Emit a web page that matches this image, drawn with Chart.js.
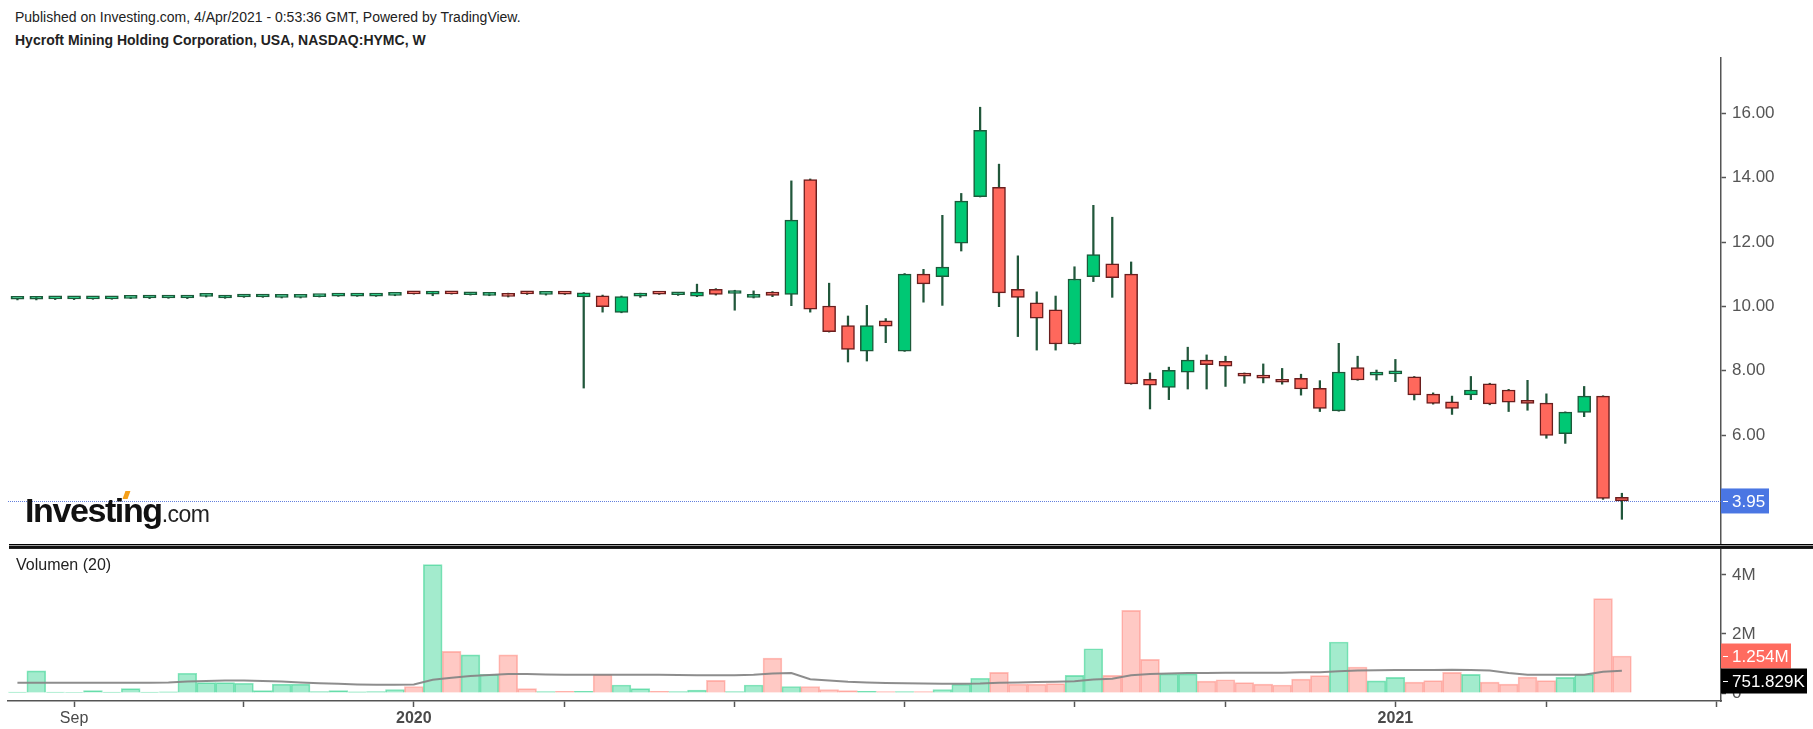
<!DOCTYPE html>
<html>
<head>
<meta charset="utf-8">
<title>HYMC weekly</title>
<script src="https://cdn.jsdelivr.net/npm/chart.js@4.4.0/dist/chart.umd.min.js"></script>
<style>
  body { margin: 0; background: #fff; font-family: "Liberation Sans", Arial, sans-serif; }
  #wrap { position: relative; width: 1813px; height: 729px; overflow: hidden; background: #fff; }
  .hdr { position: absolute; left: 15px; font-size: 14px; line-height: 16px; color: #222; white-space: nowrap; }
  #priceBox { position: absolute; left: 0; top: 0; width: 1813px; height: 546px; }
  #volBox { position: absolute; left: 0; top: 546px; width: 1813px; height: 183px; }
  #sep { position: absolute; left: 9px; top: 544px; width: 1804px; height: 1px; background: #000;
         border-bottom: 1px solid #9a9a9a; box-shadow: 0 2px 0 #111, 0 3px 0 #222; }
  #volTitle { position: absolute; left: 16px; top: 557px; font-size: 16px; line-height: 16px; color: #222; }
  #logo { position: absolute; left: 25px; top: 493px; line-height: 34px; white-space: nowrap; color: #111; }
  #logo .big { font-size: 34px; font-weight: 700; letter-spacing: -1.4px; }
  #logo .small { font-size: 23px; letter-spacing: -0.5px; color: #222; }
  #logoMark { position: absolute; left: 124px; top: 491px; width: 5px; height: 8px; background: #f5a01a; transform: skewX(-20deg); }
</style>
</head>
<body>
<div id="wrap">
  <div class="hdr" style="top:9px">Published on Investing.com, 4/Apr/2021 - 0:53:36 GMT, Powered by TradingView.</div>
  <div class="hdr" style="top:32px;font-weight:bold">Hycroft Mining Holding Corporation, USA, NASDAQ:HYMC, W</div>
  <div id="priceBox"><canvas id="priceChart"></canvas></div>
  <div id="volBox"><canvas id="volChart"></canvas></div>
  <div id="sep"></div>
  <div id="volTitle">Volumen (20)</div>
  <div id="logo"><span class="big">Investing</span><span class="small">.com</span></div>
  <div id="logoMark"></div>
</div>
<script>
// weekly bars, Aug 12 2019 .. Mar 29 2021 (index 0..85)
const opens = [10.22,10.22,10.23,10.23,10.23,10.23,10.25,10.26,10.26,10.26,
  10.31,10.26,10.29,10.29,10.28,10.28,10.30,10.32,10.32,10.32,
  10.34,10.40,10.38,10.40,10.36,10.34,10.40,10.40,10.37,10.40,
  10.29,10.33,9.81,10.32,10.40,10.36,10.32,10.53,10.40,10.28,
  10.44,10.37,13.94,10.01,9.40,8.61,9.55,8.61,11.00,10.92,
  11.96,13.41,13.70,10.53,10.11,9.89,8.83,10.92,11.32,11.00,
  7.73,7.48,7.95,8.33,8.29,7.92,7.83,7.73,7.76,7.45,
  6.75,8.10,7.86,7.90,7.81,7.27,7.03,7.25,7.59,7.40,
  7.08,6.99,6.04,6.70,7.21,4.06];
const highs = [10.25,10.30,10.24,10.24,10.25,10.24,10.28,10.29,10.28,10.28,
  10.35,10.33,10.32,10.32,10.29,10.29,10.33,10.34,10.34,10.34,
  10.37,10.41,10.45,10.41,10.39,10.40,10.41,10.45,10.39,10.41,
  10.43,10.35,10.32,10.41,10.41,10.39,10.69,10.55,10.50,10.48,
  10.46,13.90,13.96,10.72,9.70,10.03,9.62,11.02,11.15,12.83,
  13.51,16.19,14.42,11.57,10.45,10.32,11.23,13.14,12.77,11.38,
  7.93,8.11,8.73,8.49,8.45,7.93,8.21,8.07,7.89,7.69,
  8.85,8.45,8.02,8.35,7.82,7.31,7.21,7.82,7.61,7.42,
  7.70,7.28,6.72,7.51,7.22,4.19];
const lows = [10.20,10.20,10.21,10.21,10.22,10.22,10.24,10.24,10.25,10.24,
  10.29,10.25,10.28,10.28,10.26,10.26,10.29,10.31,10.31,10.31,
  10.33,10.38,10.33,10.38,10.35,10.33,10.29,10.37,10.35,10.37,
  7.46,9.82,9.80,10.28,10.37,10.34,10.30,10.35,9.88,10.26,
  10.30,10.02,9.82,9.20,8.27,8.30,8.87,8.60,10.13,10.03,
  11.72,13.40,9.99,9.06,8.64,8.64,8.82,10.77,10.28,7.58,
  6.81,7.10,7.43,7.43,7.51,7.61,7.62,7.58,7.24,6.73,
  6.74,7.70,7.71,7.66,7.09,6.96,6.64,7.10,6.94,6.73,
  6.77,5.90,5.74,6.57,4.00,3.38];
const closes = [10.23,10.25,10.23,10.23,10.24,10.24,10.28,10.28,10.28,10.28,
  10.32,10.28,10.32,10.32,10.28,10.28,10.32,10.33,10.33,10.33,
  10.36,10.39,10.39,10.39,10.38,10.35,10.31,10.39,10.38,10.38,
  10.42,9.99,10.30,10.34,10.38,10.38,10.44,10.37,10.42,10.37,
  10.34,12.68,9.91,9.21,8.66,9.40,9.38,11.00,10.70,11.22,
  13.27,15.47,10.42,10.28,9.63,8.83,10.85,11.61,10.89,7.59,
  7.55,8.01,8.33,8.19,8.14,7.83,7.77,7.64,7.43,6.83,
  7.96,7.71,7.88,7.92,7.25,6.98,6.83,7.40,6.97,7.02,
  6.98,5.99,6.71,7.21,4.03,3.95];
// volume in millions of shares
const volumes = [0.03,0.75,0.03,0.02,0.08,0.03,0.15,0.03,0.04,0.67,
  0.35,0.35,0.33,0.08,0.30,0.30,0.05,0.08,0.04,0.05,
  0.12,0.22,4.35,1.41,1.29,0.63,1.29,0.15,0.05,0.06,
  0.06,0.63,0.27,0.15,0.06,0.05,0.10,0.43,0.05,0.27,
  1.18,0.22,0.22,0.12,0.08,0.06,0.05,0.05,0.05,0.12,
  0.30,0.50,0.70,0.30,0.30,0.32,0.60,1.50,0.60,2.80,
  1.14,0.65,0.65,0.40,0.45,0.35,0.30,0.27,0.47,0.59,
  1.73,0.88,0.41,0.53,0.37,0.42,0.70,0.63,0.37,0.30,
  0.54,0.42,0.53,0.63,3.20,1.254];
// 20-week volume average (millions)
const volMA = [0.35,0.35,0.35,0.35,0.35,0.35,0.35,0.35,0.36,0.39,
  0.41,0.42,0.42,0.41,0.39,0.36,0.33,0.31,0.29,0.28,
  0.28,0.29,0.45,0.52,0.58,0.61,0.64,0.64,0.63,0.62,
  0.62,0.62,0.62,0.62,0.62,0.61,0.60,0.60,0.60,0.62,
  0.66,0.68,0.47,0.42,0.38,0.36,0.34,0.33,0.32,0.31,
  0.31,0.32,0.35,0.36,0.37,0.38,0.40,0.46,0.48,0.60,
  0.64,0.66,0.68,0.68,0.69,0.69,0.69,0.69,0.70,0.70,
  0.74,0.76,0.77,0.78,0.78,0.78,0.79,0.78,0.76,0.68,
  0.62,0.62,0.62,0.62,0.72,0.751829];

const xTickIdx = [3, 12, 21, 29, 38, 47, 56, 64, 73, 81, 90];
const xTickText = ['Sep', '', '2020', '', '', '', '', '', '2021', '', ''];
const priceTicks = [6, 8, 10, 12, 14, 16];
const volTicks = [0, 2, 4];

const FONT = '"Liberation Sans", Arial, sans-serif';
Chart.defaults.font.family = FONT;

const UP_FILL = '#00c874', UP_LINE = '#1c5a3a';
const DN_FILL = '#ff685c', DN_LINE = '#6a1e1e';
const WICK = '#21573b';
const AXIS = '#555';

const isUp = opens.map((o, i) => closes[i] >= o);

// no label overflow padding, so the plot area is exactly where the layout puts it
function noPad(s) {
    s.paddingTop = 0; s.paddingBottom = 0; s.paddingLeft = 0; s.paddingRight = 0;
}

const lastPricePlugin = {
    id: 'lastPrice',
    beforeDatasetsDraw(chart) {
        const { ctx, chartArea, scales } = chart;
        const py = Math.round(scales.y.getPixelForValue(closes[closes.length - 1])) + 0.5;
        ctx.save();
        ctx.strokeStyle = 'rgba(70,105,215,0.85)';
        ctx.lineWidth = 1;
        ctx.setLineDash([1, 1]);
        ctx.beginPath();
        ctx.moveTo(chartArea.left, py);
        ctx.lineTo(chartArea.right, py);
        ctx.stroke();
        ctx.restore();
    },
    afterDraw(chart) {
        const { ctx, chartArea, scales } = chart;
        const py = scales.y.getPixelForValue(closes[closes.length - 1]);
        ctx.save();
        ctx.fillStyle = '#4a76e3';
        ctx.fillRect(chartArea.right, py - 12.5, 48, 25);
        ctx.fillStyle = '#fff';
        ctx.fillRect(chartArea.right + 2, Math.round(py), 5, 1);
        ctx.font = '17px ' + FONT;
        ctx.textBaseline = 'middle';
        ctx.fillText(closes[closes.length - 1].toFixed(2), chartArea.right + 11, py + 1);
        ctx.restore();
    }
};

const volLabelPlugin = {
    id: 'volLabels',
    afterDraw(chart) {
        const { ctx, chartArea, scales } = chart;
        const lastVol = volumes[volumes.length - 1];
        const lastMA = volMA[volMA.length - 1];
        const vy = scales.y.getPixelForValue(lastVol);
        let my = scales.y.getPixelForValue(lastMA);
        if (my < vy + 25) my = vy + 25;
        ctx.save();
        ctx.font = '17px ' + FONT;
        ctx.textBaseline = 'middle';
        ctx.fillStyle = '#ff6b5f';
        ctx.fillRect(chartArea.right, vy - 12.5, 70, 25);
        ctx.fillStyle = '#fff';
        ctx.fillRect(chartArea.right + 2, Math.round(vy), 5, 1);
        ctx.fillText(lastVol.toFixed(3) + 'M', chartArea.right + 11, vy + 1);
        ctx.fillStyle = '#000';
        ctx.fillRect(chartArea.right, my - 12.5, 86, 25);
        ctx.fillStyle = '#fff';
        ctx.fillRect(chartArea.right + 2, Math.round(my), 5, 1);
        ctx.fillText((lastMA * 1000).toFixed(3) + 'K', chartArea.right + 11, my + 1);
        ctx.restore();
    }
};

const xRange = { min: -0.5, max: 90.25 };

new Chart(document.getElementById('priceChart'), {
    type: 'bar',
    data: {
        datasets: [
            {
                label: 'body',
                data: opens.map((o, i) => ({ x: i, y: [Math.min(o, closes[i]), Math.max(o, closes[i])] })),
                backgroundColor: isUp.map(u => u ? UP_FILL : DN_FILL),
                borderColor: isUp.map(u => u ? UP_LINE : DN_LINE),
                borderWidth: 1.5,
                borderSkipped: false,
                barThickness: 13,
                minBarLength: 3,
                grouped: false,
                order: 0
            },
            {
                label: 'wick',
                data: lows.map((l, i) => ({ x: i, y: [l, highs[i]] })),
                backgroundColor: WICK,
                borderWidth: 0,
                barThickness: 1.6,
                minBarLength: 1,
                grouped: false,
                order: 1
            }
        ]
    },
    options: {
        animation: false,
        responsive: true,
        maintainAspectRatio: false,
        layout: { padding: { left: 8, top: 58, right: 0, bottom: 0 } },
        plugins: { legend: { display: false }, tooltip: { enabled: false } },
        scales: {
            x: { type: 'linear', min: xRange.min, max: xRange.max, offset: false, display: false },
            y: {
                position: 'right',
                min: 2.55,
                max: 17.72,
                afterFit(s) { s.width = 92; noPad(s); },
                afterBuildTicks(s) { s.ticks = priceTicks.map(v => ({ value: v })); },
                ticks: { callback: v => Number(v).toFixed(2), color: AXIS, font: { size: 17 }, padding: 6 },
                grid: { drawOnChartArea: false, drawTicks: true, tickLength: 5, tickColor: AXIS, tickWidth: 1.5 },
                border: { display: true, color: AXIS, width: 1.5 }
            }
        }
    },
    plugins: [lastPricePlugin]
});

new Chart(document.getElementById('volChart'), {
    type: 'bar',
    data: {
        datasets: [
            {
                type: 'line',
                label: 'Volumen MA 20',
                data: volMA.map((v, i) => ({ x: i, y: v })),
                borderColor: 'rgba(135,135,135,0.95)',
                borderWidth: 2,
                pointRadius: 0,
                tension: 0,
                order: 0
            },
            {
                type: 'bar',
                label: 'Volumen',
                data: volumes.map((v, i) => ({ x: i, y: v })),
                backgroundColor: isUp.map(u => u ? 'rgba(0,200,116,0.36)' : 'rgba(255,104,92,0.36)'),
                borderColor: isUp.map(u => u ? 'rgba(0,200,116,0.45)' : 'rgba(255,104,92,0.42)'),
                borderWidth: 1,
                barPercentage: 1,
                categoryPercentage: 1,
                order: 1
            }
        ]
    },
    options: {
        animation: false,
        responsive: true,
        maintainAspectRatio: false,
        layout: { padding: { left: 8, top: 2, right: 0, bottom: 0 } },
        plugins: { legend: { display: false }, tooltip: { enabled: false } },
        scales: {
            x: {
                type: 'linear',
                min: xRange.min,
                max: xRange.max,
                offset: false,
                afterFit(s) { s.height = 28; noPad(s); },
                afterBuildTicks(s) { s.ticks = xTickIdx.map(v => ({ value: v })); },
                ticks: {
                    autoSkip: false,
                    maxRotation: 0,
                    padding: 2,
                    color: '#4a4a4a',
                    callback: (v) => xTickText[xTickIdx.indexOf(v)] || '',
                    font: (c) => ({ size: 16, weight: (c.tick && /^\d{4}$/.test(xTickText[xTickIdx.indexOf(c.tick.value)] || '')) ? 'bold' : 'normal' })
                },
                grid: { offset: false, drawOnChartArea: false, drawTicks: true, tickLength: 6, tickColor: AXIS, tickWidth: 1.5 },
                border: { display: true, color: AXIS, width: 1.5 }
            },
            y: {
                position: 'right',
                min: -0.271,
                max: 4.915,
                afterFit(s) { s.width = 92; noPad(s); },
                afterBuildTicks(s) { s.ticks = volTicks.map(v => ({ value: v })); },
                ticks: { callback: v => v === 0 ? '0' : v + 'M', color: AXIS, font: { size: 17 }, padding: 6 },
                grid: { drawOnChartArea: false, drawTicks: true, tickLength: 5, tickColor: AXIS, tickWidth: 1.5 },
                border: { display: true, color: AXIS, width: 1.5 }
            }
        }
    },
    plugins: [volLabelPlugin]
});
</script>
</body>
</html>
